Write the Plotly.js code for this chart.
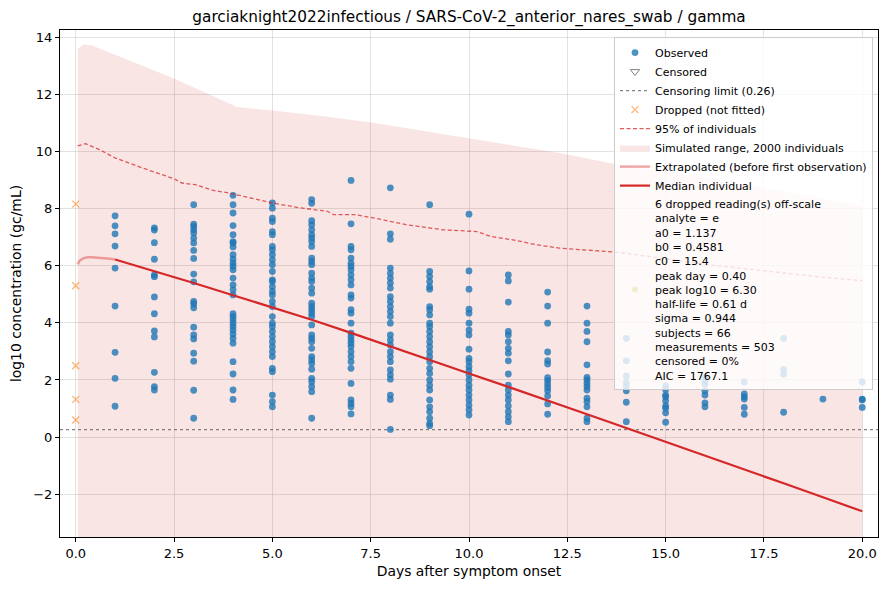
<!DOCTYPE html>
<html>
<head>
<meta charset="utf-8">
<script src="https://cdn.plot.ly/plotly-3.0.1.min.js"></script>
<style>
  html, body { margin: 0; padding: 0; background: #fff; }
  #chart { width: 888px; height: 590px; }
</style>
</head>
<body>
<div id="chart"></div>
<script>
// observed log10 readings, one list per day after symptom onset
var obsDays = [1, 2, 3, 4, 5, 6, 7, 8, 9, 10, 11, 12, 13, 14, 15, 16, 17, 18, 19, 20];
var obsValues = [
    [7.75, 7.40, 7.12, 6.69, 5.92, 4.59, 2.97, 2.06, 1.08],
    [7.33, 7.25, 6.81, 6.23, 5.68, 5.62, 4.91, 4.32, 3.72, 3.51, 2.27, 1.77, 1.65],
    [8.14, 7.46, 7.38, 7.26, 7.15, 6.97, 6.80, 6.54, 6.26, 5.71, 5.44, 4.75, 4.67, 4.53, 3.85, 3.58, 3.44, 2.94, 2.66, 1.64, 0.66],
    [8.47, 8.14, 7.85, 7.41, 7.09, 6.85, 6.80, 6.66, 6.39, 6.23, 6.09, 5.98, 5.86, 5.57, 5.33, 5.16, 4.98, 4.32, 4.22, 4.11, 3.99, 3.87, 3.75, 3.61, 3.46, 3.29, 2.64, 2.21, 1.65, 1.32],
    [8.20, 8.02, 7.67, 7.55, 7.20, 7.09, 6.68, 6.56, 6.39, 6.21, 6.04, 5.80, 5.51, 5.45, 5.27, 5.10, 4.98, 4.75, 4.57, 4.22, 3.99, 3.87, 3.70, 3.52, 3.34, 3.17, 2.99, 2.82, 2.41, 2.29, 1.47, 1.24, 1.06],
    [8.32, 8.19, 7.58, 7.44, 7.26, 7.09, 6.97, 6.85, 6.68, 6.27, 6.15, 6.04, 5.74, 5.57, 5.45, 5.22, 5.04, 4.69, 4.57, 4.46, 4.34, 4.22, 3.93, 3.58, 3.46, 3.34, 3.11, 2.82, 2.70, 2.58, 2.38, 2.06, 1.94, 1.77, 1.59, 0.66],
    [8.99, 7.47, 6.68, 6.56, 6.27, 6.09, 5.98, 5.86, 5.68, 5.51, 5.33, 4.98, 4.87, 4.46, 4.34, 3.99, 3.64, 3.52, 3.40, 3.29, 3.17, 2.99, 2.82, 2.64, 2.41, 1.88, 1.30, 1.18, 1.06, 0.81],
    [8.73, 7.12, 6.93, 5.92, 5.74, 5.57, 5.40, 5.22, 4.92, 4.75, 4.57, 4.40, 4.22, 3.99, 3.58, 3.40, 3.23, 2.99, 2.82, 2.64, 2.35, 2.18, 2.03, 1.47, 1.32, 0.27],
    [8.14, 5.80, 5.63, 5.45, 5.27, 5.18, 4.57, 4.46, 4.28, 3.99, 3.87, 3.70, 3.52, 3.34, 3.17, 2.99, 2.82, 2.64, 2.41, 2.23, 2.00, 1.82, 1.65, 1.30, 1.06, 0.89, 0.66, 0.48, 0.40],
    [7.81, 5.82, 5.18, 4.48, 4.34, 3.99, 3.75, 3.58, 3.08, 2.76, 2.64, 2.47, 2.33, 2.18, 2.00, 1.82, 1.65, 1.47, 1.30, 1.12, 0.95, 0.77],
    [5.68, 5.47, 4.73, 3.70, 3.58, 3.34, 3.11, 2.94, 2.67, 2.21, 1.82, 1.65, 1.47, 1.30, 1.09, 0.89, 0.71, 0.54],
    [5.08, 4.59, 3.99, 2.98, 2.68, 2.56, 2.08, 1.98, 1.86, 1.74, 1.62, 1.44, 1.16, 0.80],
    [4.59, 3.99, 3.70, 3.34, 2.53, 2.09, 2.00, 1.88, 1.77, 1.65, 1.36, 1.24, 1.06, 0.66, 0.54],
    [3.46, 2.67, 2.14, 1.91, 1.77, 1.62, 1.22, 0.54],
    [1.79, 1.67, 1.47, 1.41, 1.27, 1.09, 1.01, 0.85, 0.52],
    [2.09, 1.98, 1.86, 1.62, 1.47, 1.20, 1.06],
    [1.93, 1.51, 1.41, 1.33, 1.04, 0.80],
    [3.46, 2.37, 2.20, 0.87],
    [1.33],
    [1.93, 1.33, 1.30, 1.04]
];

// censored readings (none in this data set)
var censoredDays = [];
var censoredValues = [];
var censorLimit = 0.26;

// readings dropped from the fit
var droppedDays = [0, 0, 0, 0, 0];
var droppedValues = [8.16, 5.30, 2.50, 1.32, 0.60];

// simulated range of 2000 individuals
var bandDays = [0.05, 0.2, 0.4, 1.2, 2.5, 3.3, 4.1, 5.0, 6.3, 7.6, 10.0, 12.3, 13.8, 16.0, 18.0, 20.0];
var bandUpper = [13.6, 13.75, 13.73, 13.29, 12.56, 12.06, 11.56, 11.44, 11.24, 11.0, 10.47, 9.95, 9.54, 9.1, 8.6, 8.1];
var bandLower = [-3.6, -3.6, -3.6, -3.6, -3.6, -3.6, -3.6, -3.6, -3.6, -3.6, -3.6, -3.6, -3.6, -3.6, -3.6, -3.6];

// 95% of individuals
var p95Days = [0.05, 0.25, 0.6, 1.0, 1.75, 2.5, 2.7, 3.05, 3.5, 3.9, 5.0, 5.7, 6.4, 6.55, 7.1, 7.6, 8.4, 9.35, 10.2, 10.55, 11.2, 11.7, 12.3, 13.8, 15.0, 16.0, 17.0, 18.0, 19.0, 20.0];
var p95Values = [10.2, 10.28, 10.07, 9.78, 9.40, 9.05, 8.90, 8.84, 8.64, 8.55, 8.2, 8.03, 7.91, 7.79, 7.79, 7.67, 7.44, 7.26, 7.2, 7.03, 6.89, 6.74, 6.62, 6.47, 6.25, 6.05, 5.9, 5.75, 5.6, 5.48];

// median individual
var extrapDays = [0.05, 0.1, 0.2, 0.3, 0.4, 0.6, 0.8, 1.0];
var extrapValues = [6.05, 6.18, 6.27, 6.30, 6.30, 6.29, 6.26, 6.22];
var medianDays = [1, 2, 3, 4, 5, 6, 7, 8, 9, 10, 11, 12, 13, 14, 15, 16, 17, 18, 19, 20];
var medianValues = [6.22, 5.82, 5.40, 4.97, 4.54, 4.11, 3.65, 3.17, 2.70, 2.23, 1.76, 1.29, 0.80, 0.32, -0.16, -0.64, -1.13, -1.62, -2.11, -2.60];

var fitNotes = [
    '6 dropped reading(s) off-scale',
    'analyte = e',
    'a0 = 1.137',
    'b0 = 0.4581',
    'c0 = 15.4',
    'peak day = 0.40',
    'peak log10 = 6.30',
    'half-life = 0.61 d',
    'sigma = 0.944',
    'subjects = 66',
    'measurements = 503',
    'censored = 0%',
    'AIC = 1767.1'
];

var xRange = [-0.4, 20.4];
var yRange = [-3.5, 14.26];

var ox = [], oy = [];
obsDays.forEach(function (d, i) {
    obsValues[i].forEach(function (v) { ox.push(d); oy.push(v); });
});

// an empty trace is left out of the legend, so give it one blank point
function orBlank(arr) { return arr.length ? arr : [null]; }

var FONT = 'DejaVu Sans, Liberation Sans, sans-serif';

var traces = [
    {
        x: bandDays.concat(bandDays.slice().reverse()),
        y: bandUpper.concat(bandLower.slice().reverse()),
        type: 'scatter', mode: 'lines', fill: 'toself',
        fillcolor: 'rgba(214,39,40,0.12)', line: {width: 0},
        name: 'Simulated range, 2000 individuals', legendrank: 6,
        hoverinfo: 'skip'
    },
    {
        x: xRange, y: [censorLimit, censorLimit],
        type: 'scatter', mode: 'lines',
        line: {color: 'rgba(100,100,100,0.8)', width: 1.3, dash: 'dot'},
        name: 'Censoring limit (' + censorLimit + ')', legendrank: 3
    },
    {
        x: ox, y: oy, type: 'scatter', mode: 'markers',
        marker: {color: 'rgba(31,119,180,0.8)', size: 6.8, line: {width: 0}},
        name: 'Observed', legendrank: 1
    },
    {
        x: orBlank(censoredDays), y: orBlank(censoredValues), type: 'scatter', mode: 'markers',
        marker: {symbol: 'triangle-down-open', color: 'grey', size: 8, line: {width: 1}},
        name: 'Censored', legendrank: 2
    },
    {
        x: droppedDays, y: droppedValues, type: 'scatter', mode: 'markers',
        marker: {symbol: 'x-thin-open', color: 'rgba(255,127,14,0.6)', size: 7, line: {width: 1.2, color: 'rgba(255,127,14,0.6)'}},
        name: 'Dropped (not fitted)', legendrank: 4
    },
    {
        x: p95Days, y: p95Values, type: 'scatter', mode: 'lines',
        line: {color: 'rgba(214,39,40,0.75)', width: 1.3, dash: '4px,2.5px'},
        name: '95% of individuals', legendrank: 5
    },
    {
        x: extrapDays, y: extrapValues, type: 'scatter', mode: 'lines',
        line: {color: 'rgba(214,39,40,0.4)', width: 2.5},
        name: 'Extrapolated (before first observation)', legendrank: 7
    },
    {
        x: medianDays, y: medianValues, type: 'scatter', mode: 'lines',
        line: {color: '#d62728', width: 2.2},
        name: 'Median individual', legendrank: 8
    },
    {
        x: [null], y: [null], type: 'scatter', mode: 'markers',
        marker: {opacity: 0}, hoverinfo: 'skip',
        name: fitNotes.join('<br>'), legendrank: 9
    }
];

var axisStyle = {
    showline: true, mirror: true, linecolor: '#000', linewidth: 1,
    ticks: 'outside', ticklen: 4, tickcolor: '#000',
    showgrid: true, gridcolor: 'rgba(190,190,190,0.45)', gridwidth: 1,
    zeroline: false,
    tickfont: {family: FONT, size: 13, color: '#000'}
};

var layout = {
    width: 888, height: 590,
    paper_bgcolor: '#fff', plot_bgcolor: '#fff',
    margin: {l: 60, r: 10, t: 30, b: 53},
    font: {family: FONT, color: '#000'},
    title: {
        text: 'garciaknight2022infectious / SARS-CoV-2_anterior_nares_swab / gamma',
        font: {family: FONT, size: 15.3, color: '#000'},
        x: 0.5, xref: 'paper', y: 1 - 17 / 590, yanchor: 'middle'
    },
    xaxis: Object.assign({}, axisStyle, {
        range: xRange, tick0: 0, dtick: 2.5, tickformat: '.1f',
        title: {text: 'Days after symptom onset', font: {family: FONT, size: 13.9}, standoff: 6}
    }),
    yaxis: Object.assign({}, axisStyle, {
        range: yRange, tick0: 0, dtick: 2,
        title: {text: 'log10 concentration (gc/mL)', font: {family: FONT, size: 13.9}, standoff: 8}
    }),
    showlegend: true,
    legend: {
        x: 0.9939, xanchor: 'right', y: 0.986, yanchor: 'top',
        bgcolor: 'rgba(255,255,255,0.8)', bordercolor: '#cccccc', borderwidth: 1,
        font: {family: FONT, size: 11, color: '#000'},
        traceorder: 'normal'
    }
};

Plotly.newPlot('chart', traces, layout, {displayModeBar: false, staticPlot: true});
</script>
</body>
</html>
